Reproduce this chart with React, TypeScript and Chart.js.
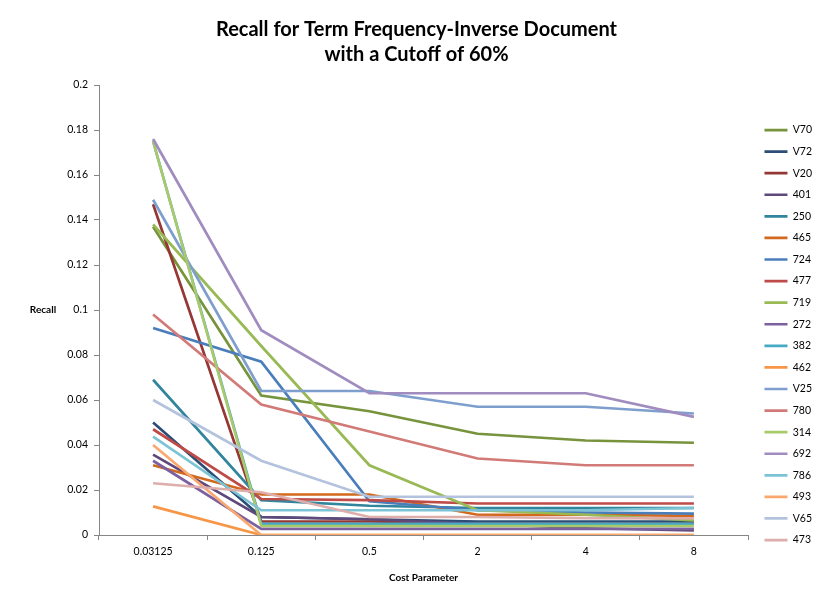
import React, { useEffect, useRef } from "react";
import { Chart, registerables } from "chart.js";

Chart.register(...registerables);

const costLabels = ["0.03125", "0.125", "0.5", "2", "4", "8"];

const seriesNames = ["V70", "V72", "V20", "401", "250", "465", "724", "477", "719", "272", "382", "462", "V25", "780", "314", "692", "786", "493", "V65", "473"];

const v70 = [0.137, 0.062, 0.055, 0.045, 0.042, 0.041];
const v72 = [0.05, 0.008, 0.007, 0.006, 0.006, 0.006];
const v20 = [0.147, 0.006, 0.006, 0.005, 0.005, 0.005];
const s401 = [0.0357, 0.008, 0.007, 0.005, 0.003, 0.002];
const s250 = [0.069, 0.0155, 0.013, 0.012, 0.012, 0.012];
const s465 = [0.031, 0.018, 0.018, 0.009, 0.009, 0.0085];
const s724 = [0.092, 0.077, 0.015, 0.011, 0.01, 0.0095];
const s477 = [0.047, 0.016, 0.0155, 0.014, 0.014, 0.014];
const s719 = [0.138, 0.084, 0.031, 0.011, 0.009, 0.0065];
const s272 = [0.033, 0.0027, 0.0027, 0.0027, 0.0027, 0.0027];
const s382 = [0.175, 0.005, 0.005, 0.005, 0.005, 0.005];
const s462 = [0.0127, 0, 0, 0, 0, 0];
const v25 = [0.149, 0.064, 0.064, 0.057, 0.057, 0.054];
const s780 = [0.098, 0.058, 0.046, 0.034, 0.031, 0.031];
const s314 = [0.175, 0.004, 0.004, 0.004, 0.004, 0.004];
const s692 = [0.176, 0.091, 0.063, 0.063, 0.063, 0.0525];
const s786 = [0.0437, 0.011, 0.011, 0.011, 0.011, 0.012];
const s493 = [0.04, 0, 0, 0, 0, 0];
const v65 = [0.06, 0.033, 0.017, 0.017, 0.017, 0.017];
const s473 = [0.023, 0.019, 0.008, 0.008, 0.0075, 0.0074];

const seriesValues = [v70, v72, v20, s401, s250, s465, s724, s477, s719, s272, s382, s462, v25, s780, s314, s692, s786, s493, v65, s473];

const seriesColors = [
  "#77933C", "#2C4D75", "#953735", "#5F497A", "#31859C", "#D2691E",
  "#4A7EBB", "#BE4B48", "#98B954", "#7D60A0", "#46AAC5", "#F79646",
  "#7E9FCD", "#D27A78", "#A9C96B", "#A08CBF", "#7CC3D6", "#F9A870",
  "#B3C3DD", "#DDAEAC",
];

const yTicks = [0, 0.02, 0.04, 0.06, 0.08, 0.1, 0.12, 0.14, 0.16, 0.18, 0.2];

const FONT = "Lato, 'Open Sans', sans-serif";

export default function App() {
  const ref = useRef<HTMLCanvasElement | null>(null);
  useEffect(() => {
    if (!ref.current) return;
    const yTitlePlugin = {
      id: "yTitle",
      afterDraw(chart: any) {
        const { ctx, chartArea } = chart;
        ctx.save();
        ctx.font = `bold 10px ${FONT}`;
        ctx.fillStyle = "#000";
        ctx.textAlign = "center";
        ctx.textBaseline = "middle";
        ctx.fillText("Recall", chartArea.left - 56, (chartArea.top + chartArea.bottom) / 2);
        ctx.restore();
      },
    };
    const chart = new Chart(ref.current, {
      type: "line",
      data: {
        labels: costLabels,
        datasets: seriesNames.map((name, i) => ({
          label: name,
          data: seriesValues[i],
          borderColor: seriesColors[i],
          backgroundColor: seriesColors[i],
          borderWidth: 2.7,
          pointRadius: 0,
          tension: 0,
          fill: false,
          order: -i,
        })),
      },
      options: {
        responsive: false,
        animation: false,
        layout: { padding: { left: 20, right: 0, top: 0, bottom: 0 } },
        plugins: {
          title: {
            display: true,
            text: ["Recall for Term Frequency-Inverse Document", "with a Cutoff of 60%"],
            font: { family: FONT, size: 20, weight: "bold", lineHeight: 1.25 },
            color: "#000",
            padding: { top: 17.5, bottom: 17.5 },
          },
          legend: {
            position: "right",
            align: "start",
            maxWidth: 59.6,
            title: {
              display: true,
              text: "",
              font: { family: FONT, size: 10, lineHeight: 1.2 },
              padding: { top: 101.7, bottom: 0 },
            },
            labels: {
              usePointStyle: true,
              pointStyle: "line",
              pointStyleWidth: 23,
              font: { family: FONT, size: 10.5 },
              color: "#000",
              padding: 11.08,
              generateLabels: (chart: any) =>
                chart.data.datasets.map((ds: any, i: number) => ({
                  text: ds.label,
                  fillStyle: ds.borderColor,
                  strokeStyle: ds.borderColor,
                  lineWidth: 2.7,
                  pointStyle: "line",
                  hidden: false,
                  datasetIndex: i,
                  fontColor: "#000",
                })),
            },
          },
          tooltip: { enabled: false },
        },
        scales: {
          x: {
            type: "category",
            offset: true,
            afterFit: (s: any) => { s.height = 60; },
            grid: {
              offset: true,
              drawOnChartArea: false,
              drawTicks: true,
              tickLength: 5,
              color: "#868686",
            },
            border: { color: "#868686", width: 1 },
            ticks: { font: { family: FONT, size: 10.5 }, color: "#000", padding: 5, maxRotation: 0 },
            title: {
              display: true,
              text: "Cost Parameter",
              font: { family: FONT, size: 10, weight: "bold" },
              color: "#000",
              padding: { top: 4, bottom: 11 },
            },
          },
          y: {
            min: 0,
            max: 0.2,
            afterFit: (s: any) => { s.width = 79; },
            afterBuildTicks: (s: any) => { s.ticks = yTicks.map((v) => ({ value: v })); },
            grid: {
              drawOnChartArea: false,
              drawTicks: true,
              tickLength: 5,
              color: "#868686",
            },
            border: { color: "#868686", width: 1 },
            ticks: {
              font: { family: FONT, size: 10.5 },
              color: "#000",
              padding: 6,
              callback: (v: any) => String(Number(Number(v).toFixed(2))),
            },
          },
          gap: {
            type: "linear",
            position: "right",
            display: true,
            afterFit: (s: any) => { s.width = 5.4; },
            grid: { display: false, drawTicks: false },
            border: { display: false },
            ticks: { display: false },
          },
        },
      } as any,
      plugins: [yTitlePlugin],
    });
    return () => chart.destroy();
  }, []);
  return (
    <div style={{ position: "absolute", left: 0, top: 0, width: 813, height: 595, overflow: "hidden" }}>
      <canvas ref={ref} width={813} height={595} style={{ display: "block" }} />
    </div>
  );
}
